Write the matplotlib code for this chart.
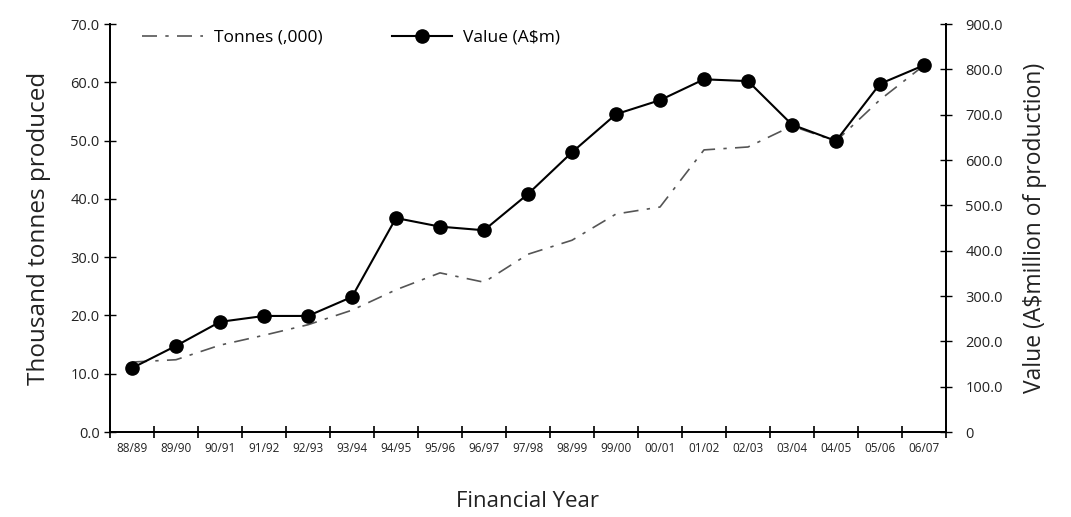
import numpy as np
import matplotlib.pyplot as plt

# financial years
years = ["88/89", "89/90", "90/91", "91/92", "92/93", "93/94", "94/95", "95/96",
         "96/97", "97/98", "98/99", "99/00", "00/01", "01/02", "02/03", "03/04",
         "04/05", "05/06", "06/07"]

# thousand tonnes produced (left axis)
tonnes = [12.0, 12.4, 14.9, 16.6, 18.4, 20.9, 24.4, 27.3, 25.7, 30.5,
          32.9, 37.4, 38.6, 48.4, 48.9, 52.5, 49.9, 57.0, 62.9]

# value in A$ million (right axis)
value = [141, 190, 243, 256, 256, 298, 472, 453, 445, 525,
         617, 701, 732, 778, 774, 678, 642, 768, 809]

left_ticks = [0, 10, 20, 30, 40, 50, 60, 70]
right_ticks = [0, 100, 200, 300, 400, 500, 600, 700, 800, 900]

plt.rcParams['font.family'] = ['Open Sans', 'DejaVu Sans']

fig = plt.figure(figsize=(10.71, 5.17), dpi=100)
ax = fig.add_axes([110 / 1071, 85 / 517, 836 / 1071, 408 / 517])
ax2 = ax.twinx()

x = np.arange(len(years))

l1, = ax.plot(x, tonnes, color='#555555', linewidth=1.2,
              linestyle=(0, (9, 5, 2, 5)), label='Tonnes (,000)')
l2, = ax2.plot(x, value, color='black', linewidth=1.5, marker='o',
               markersize=9.5, label='Value (A\\$m)')

ax.set_xlim(-0.5, len(years) - 0.5)
ax.set_ylim(0, 70)
ax2.set_ylim(0, 900)

# ticks at category boundaries, labels at centres
ax.set_xticks(np.arange(len(years) + 1) - 0.5)
ax.set_xticklabels([])
ax.set_xticks(x, minor=True)
ax.set_xticklabels(years, minor=True, fontsize=8.5, color='#222222')
ax.tick_params(axis='x', which='major', direction='inout', length=9, width=1.2)
ax.tick_params(axis='x', which='minor', length=0, pad=7)

ax.set_yticks(left_ticks)
ax.set_yticklabels([f"{v:.1f}" for v in left_ticks], fontsize=10.5, color='#222222')
ax.tick_params(axis='y', direction='inout', length=8, width=1)

ax2.set_yticks(right_ticks)
ax2.set_yticklabels(["0"] + [f"{v:.1f}" for v in right_ticks[1:]], fontsize=10.5,
                    color='#222222')
ax2.tick_params(axis='y', direction='inout', length=8, width=1, pad=10)

for a in (ax, ax2):
    a.spines['top'].set_visible(False)
    a.spines['left'].set_linewidth(1.3)
    a.spines['bottom'].set_linewidth(1.3)
    a.spines['right'].set_linewidth(1.3)

ax.set_ylabel('Thousand tonnes produced', fontsize=17.5, color='#222222', labelpad=14)
ax2.set_ylabel('Value (A\\$million of production)', fontsize=16.5, color='#222222',
               labelpad=14)
ax.set_xlabel('Financial Year', fontsize=16, color='#222222', labelpad=26)

ax2.legend(handles=[l1, l2], loc='upper left', bbox_to_anchor=(0.02, 1.025),
           ncol=2, frameon=False, fontsize=12.5, handlelength=3.5,
           columnspacing=4, handletextpad=0.6)

fig.savefig('out.png', dpi=100)
